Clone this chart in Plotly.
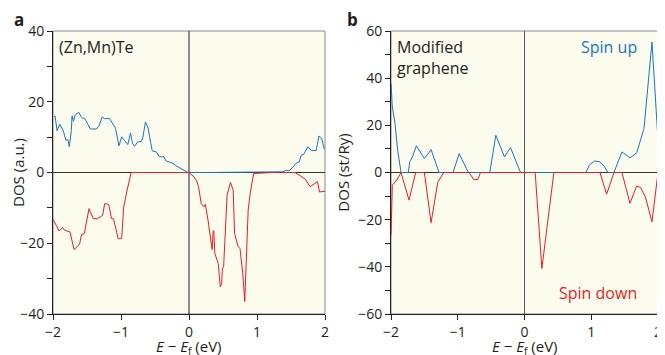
import plotly.graph_objects as go

# Panel a: (Zn,Mn)Te
a_up_x = [-1.985, -1.97, -1.94, -1.90, -1.85, -1.81, -1.78, -1.76, -1.73, -1.72, -1.70, -1.67, -1.62, -1.58,
          -1.53, -1.48, -1.45, -1.36, -1.32, -1.28, -1.24, -1.17, -1.12, -1.08, -1.03, -0.99, -0.95,
          -0.90, -0.86, -0.83, -0.80, -0.76, -0.70, -0.68, -0.64, -0.60, -0.58, -0.54, -0.48, -0.44,
          -0.41, -0.37, -0.34, -0.28, -0.235, -0.19, -0.11, -0.06, -0.015, 0.3, 0.8, 1.28, 1.38, 1.43,
          1.47, 1.53, 1.58, 1.62, 1.65, 1.69, 1.75, 1.80, 1.87, 1.91, 1.95, 1.99]
a_up_y = [15.7, 16.0, 11.8, 13.6, 11.9, 9.1, 9.3, 7.3, 11.9, 16.0, 14.5, 16.4, 17.0, 15.5,
          15.2, 13.6, 12.3, 12.3, 13.3, 15.7, 15.2, 15.3, 13.9, 12.5, 7.5, 10.1, 9.1,
          7.9, 11.2, 8.2, 7.4, 8.6, 8.8, 9.8, 14.3, 12.5, 10.1, 6.1, 5.8, 4.6,
          4.4, 4.5, 3.3, 3.0, 2.6, 1.9, 1.1, 0.5, 0.0, 0.0, 0.0, 0.0, 0.2, 0.65,
          0.45, 1.6, 2.7, 3.0, 4.9, 5.2, 7.3, 6.2, 6.2, 10.3, 9.7, 6.5]
a_dn_x = [-2.0, -1.95, -1.91, -1.86, -1.83, -1.75, -1.69, -1.61, -1.58, -1.54, -1.47, -1.41, -1.35,
          -1.27, -1.24, -1.18, -1.14, -1.11, -1.04, -0.99, -0.96, -0.91, -0.85, -0.4, 0.0, 0.06, 0.11,
          0.14, 0.18, 0.22, 0.24, 0.28, 0.32, 0.34, 0.355, 0.365, 0.38, 0.43, 0.46, 0.48, 0.49, 0.51,
          0.56, 0.61, 0.65, 0.67, 0.72, 0.75, 0.79, 0.82, 0.87, 0.90, 0.95, 1.2, 1.56, 1.63, 1.71,
          1.78, 1.84, 1.89, 1.92, 2.0]
a_dn_y = [-13.2, -14.9, -16.5, -15.5, -16.3, -16.8, -21.8, -20.3, -17.5, -17.3, -10.2, -13.0, -13.1,
          -12.1, -8.8, -9.0, -13.0, -13.1, -18.8, -18.6, -9.7, -5.0, 0.0, 0.0, 0.0, -1.0, -2.2,
          -4.0, -8.8, -9.7, -9.0, -13.5, -18.2, -21.8, -16.5, -16.5, -22.9, -25.7, -32.3, -31.6, -27.6, -26.2,
          -6.4, -2.8, -5.0, -17.2, -20.8, -21.5, -28.5, -36.5, -10.6, -5.9, -0.3, 0.0, 0.0, -0.9, -1.9,
          -4.0, -3.3, -2.6, -5.5, -5.3]

# Panel b: modified graphene
b_up_x = [-2.0, -1.98, -1.94, -1.90, -1.85, -1.74, -1.72, -1.68, -1.62, -1.50, -1.40, -1.28, -1.07,
          -0.98, -0.84, -0.52, -0.43, -0.30, -0.21, -0.06, 0.92, 0.97, 1.05, 1.13, 1.20, 1.25,
          1.34, 1.46, 1.58, 1.68, 1.79, 1.91, 2.0]
b_up_y = [37.7, 27.8, 20.8, 9.4, 0.0, 0.0, 4.5, 6.6, 11.3, 5.9, 9.7, 0.0, 0.0,
          8.0, 0.0, 0.0, 15.8, 6.6, 10.6, 0.0, 0.0, 3.1, 4.9, 4.5, 2.4, 0.0,
          0.0, 8.7, 6.2, 8.3, 18.6, 55.3, 13.7]
b_dn_x = [-2.0, -1.98, -1.91, -1.85, -1.73, -1.63, -1.50, -1.40, -1.30, -1.21, -0.83, -0.76, -0.70,
          -0.66, 0.16, 0.26, 0.44, 1.13, 1.23, 1.34, 1.46, 1.58, 1.68, 1.74, 1.81, 1.91, 2.0]
b_dn_y = [-26.6, -5.4, -3.0, 0.0, -11.7, 0.0, 0.0, -21.3, -4.2, 0.0, 0.0, -3.0, -3.0,
          0.0, 0.0, -40.7, 0.0, 0.0, -9.2, 0.0, 0.0, -13.1, -5.7, -6.4, -10.3, -20.9, 0.0]

BLUE = "#1a76bf"
RED = "#ec1c24"
FONT = "Open Sans"
INK = "#231f20"

fig = go.Figure()
fig.add_trace(go.Scatter(x=a_up_x, y=a_up_y, mode="lines", line=dict(color=BLUE, width=1), xaxis="x", yaxis="y"))
fig.add_trace(go.Scatter(x=a_dn_x, y=a_dn_y, mode="lines", line=dict(color=RED, width=1), xaxis="x", yaxis="y"))
fig.add_trace(go.Scatter(x=b_up_x, y=b_up_y, mode="lines", line=dict(color=BLUE, width=1), xaxis="x2", yaxis="y2"))
fig.add_trace(go.Scatter(x=b_dn_x, y=b_dn_y, mode="lines", line=dict(color=RED, width=1), xaxis="x2", yaxis="y2"))

axfont = dict(family=FONT, size=14, color=INK)
xcommon = dict(range=[-2, 2], tickvals=[-2, -1, 0, 1, 2], ticktext=["\u22122", "\u22121", "0", "1", "2"],
               showgrid=False, zeroline=False, showline=True, linecolor=INK, linewidth=1, automargin=False,
               ticks="outside", ticklen=5, tickcolor=INK, tickfont=axfont, ticklabeloverflow="allow")
ycommon = dict(showgrid=False, zeroline=False, showline=True, linecolor=INK, linewidth=1, automargin=False,
               ticks="outside", ticklen=5, tickcolor=INK, tickfont=axfont,
               minor=dict(dtick=10, ticks="outside", ticklen=5, tickcolor=INK, showgrid=False))

# The page body has an 8 px margin, so the figure is 8 px smaller and shifted.
fig.update_layout(
    width=657, height=347,
    margin=dict(l=45, r=7, t=23, b=41),
    paper_bgcolor="white", plot_bgcolor="#fbfbee",
    showlegend=False,
    xaxis=dict(domain=[0, 0.4496], anchor="y", **xcommon),
    xaxis2=dict(domain=[0.5587, 1], anchor="y2", **xcommon),
    yaxis=dict(range=[-40, 40], anchor="x", tickvals=[-40, -20, 0, 20, 40],
               ticktext=["\u221240", "\u221220", "0", "20", "40"],
               title=dict(text="DOS (a.u.)", font=dict(family=FONT, size=15, color=INK), standoff=4), **ycommon),
    yaxis2=dict(range=[-60, 60], anchor="x2", tickvals=[-60, -40, -20, 0, 20, 40, 60],
                ticktext=["\u221260", "\u221240", "\u221220", "0", "20", "40", "60"],
                title=dict(text="DOS (st/Ry)", font=dict(family=FONT, size=15, color=INK), standoff=4), **ycommon),
)

# frame and zero lines
for xr, yr, zc in (("x", "y", INK), ("x2", "y2", "#555555")):
    fig.add_shape(type="rect", xref=f"{xr} domain", yref=f"{yr} domain", x0=0, x1=1, y0=0, y1=1,
                  line=dict(color="#8a8a8a", width=1), layer="below")
    fig.add_shape(type="line", xref=f"{xr} domain", yref=yr, x0=0, x1=1, y0=0, y1=0,
                  line=dict(color="#333333", width=1), layer="below")
    fig.add_shape(type="line", xref=xr, yref=f"{yr} domain", x0=0, x1=0, y0=0, y1=1,
                  line=dict(color=zc, width=1), layer="below")

# x-axis titles
for xr, yr in (("x", "y"), ("x2", "y2")):
    fig.add_annotation(text="<i>E</i> \u2212 <i>E</i><sub>f</sub> (eV)", xref=f"{xr} domain", yref=f"{yr} domain",
                       x=0.5, y=-0.118, xanchor="center", yanchor="middle", showarrow=False,
                       font=dict(family=FONT, size=15, color=INK))

txt = dict(family=FONT, size=16, color=INK)
fig.add_annotation(text="<b>a</b>", xref="paper", yref="paper", x=-0.067, y=1.040, xanchor="left", yanchor="middle",
                   showarrow=False, font=dict(family=FONT, size=17, color=INK))
fig.add_annotation(text="<b>b</b>", xref="paper", yref="paper", x=0.482, y=1.040, xanchor="left", yanchor="middle",
                   showarrow=False, font=dict(family=FONT, size=17, color=INK))
fig.add_annotation(text="(Zn,Mn)Te", xref="x domain", yref="y domain", x=0.015, y=0.99, xanchor="left", yanchor="top",
                   showarrow=False, font=txt)
fig.add_annotation(text="Modified<br>graphene", xref="x2 domain", yref="y2 domain", x=0.015, y=0.99,
                   xanchor="left", yanchor="top", align="left", showarrow=False, font=txt)
fig.add_annotation(text="Spin up", xref="x2 domain", yref="y2 domain", x=0.93, y=0.99, xanchor="right", yanchor="top",
                   showarrow=False, font=dict(family=FONT, size=16, color=BLUE))
fig.add_annotation(text="Spin down", xref="x2 domain", yref="y2 domain", x=0.93, y=0.03, xanchor="right", yanchor="bottom",
                   showarrow=False, font=dict(family=FONT, size=16, color=RED))

fig.write_html("out.html")
